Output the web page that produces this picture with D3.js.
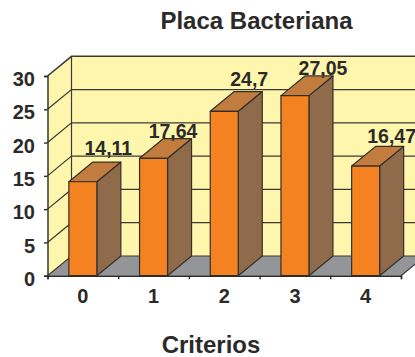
<!DOCTYPE html>
<html>
<head>
<meta charset="utf-8">
<script src="https://d3js.org/d3.v7.min.js"></script>
<style>
  html, body { margin: 0; padding: 0; background: #fff; overflow: hidden; }
  text { font-family: "Liberation Sans", Arial, sans-serif; font-weight: bold; fill: #2b2a29; }
</style>
</head>
<body>
<div id="chart"></div>
<script>
const categories = ["0", "1", "2", "3", "4"];
const values = [14.11, 17.64, 24.7, 27.05, 16.47];
const valueLabels = ["14,11", "17,64", "24,7", "27,05", "16,47"];
const yTicks = [0, 5, 10, 15, 20, 25, 30];

const width = 415, height = 357;
const plotLeft = 47.5, plotRight = 401, plotBottom = 275.7, plotTop = 76;
const depthX = 24, depthY = -19.7;
const lineColor = "#3d3a35";

const svg = d3.select("#chart").append("svg")
    .attr("width", width)
    .attr("height", height);

const x = d3.scaleBand()
    .domain(categories)
    .range([plotLeft, plotRight])
    .paddingInner(0.604)
    .paddingOuter(0.302);

const xEdges = d3.scaleLinear().domain([0, categories.length]).range([plotLeft, plotRight]);
const y = d3.scaleLinear().domain([0, 30]).range([plotBottom, plotTop]);

// walls and floor
svg.append("path")
    .attr("d", `M${plotLeft},${y(0)}L${plotLeft},${y(30)}L${plotLeft + depthX},${y(30) + depthY}L${plotLeft + depthX},${y(0) + depthY}Z`)
    .attr("fill", "#fff6ae");

svg.append("rect")
    .attr("x", plotLeft + depthX)
    .attr("y", y(30) + depthY)
    .attr("width", plotRight - plotLeft)
    .attr("height", y(0) - y(30))
    .attr("fill", "#fff6ae");

svg.append("path")
    .attr("d", `M${plotLeft},${y(0)}L${plotLeft + depthX},${y(0) + depthY}L${plotRight + depthX},${y(0) + depthY}L${plotRight},${y(0)}Z`)
    .attr("fill", "#939598");

// gridlines on side and back wall
svg.selectAll(".grid")
    .data(yTicks)
    .enter().append("path")
    .attr("class", "grid")
    .attr("d", d => `M${plotLeft},${y(d)}L${plotLeft + depthX},${y(d) + depthY}L${plotRight + depthX},${y(d) + depthY}`)
    .attr("fill", "none")
    .attr("stroke", lineColor)
    .attr("stroke-width", d => d === 30 ? 1.6 : 1.2);

svg.append("line")
    .attr("x1", plotLeft + depthX).attr("x2", plotLeft + depthX)
    .attr("y1", y(30) + depthY).attr("y2", y(0) + depthY)
    .attr("stroke", lineColor)
    .attr("stroke-width", 1.2);

svg.append("line")
    .attr("x1", plotRight).attr("x2", plotRight + depthX)
    .attr("y1", y(0)).attr("y2", y(0) + depthY)
    .attr("stroke", lineColor)
    .attr("stroke-width", 1.2);

// bars
const bars = svg.selectAll(".bar")
    .data(categories.map((c, i) => ({ c, v: values[i], label: valueLabels[i] })))
    .enter().append("g")
    .attr("class", "bar")
    .attr("stroke", "#33302c")
    .attr("stroke-width", 1.2)
    .attr("stroke-linejoin", "round");

bars.append("path")
    .attr("d", d => {
        const x1 = x(d.c) + x.bandwidth();
        return `M${x1},${y(d.v)}L${x1 + depthX},${y(d.v) + depthY}L${x1 + depthX},${y(0) + depthY}L${x1},${y(0)}Z`;
    })
    .attr("fill", "#8f6b4b");

bars.append("path")
    .attr("d", d => {
        const x0 = x(d.c), x1 = x0 + x.bandwidth();
        return `M${x0},${y(d.v)}L${x0 + depthX},${y(d.v) + depthY}L${x1 + depthX},${y(d.v) + depthY}L${x1},${y(d.v)}Z`;
    })
    .attr("fill", "#c17c3e");

bars.append("rect")
    .attr("x", d => x(d.c))
    .attr("y", d => y(d.v))
    .attr("width", x.bandwidth())
    .attr("height", d => y(0) - y(d.v))
    .attr("fill", "#f58220");

// axes
const yAxis = svg.append("g")
    .attr("transform", `translate(${plotLeft},0)`)
    .call(d3.axisLeft(y).tickValues(yTicks).tickSize(3.5).tickPadding(9));

const xTickAxis = svg.append("g")
    .attr("transform", `translate(0,${plotBottom})`)
    .call(d3.axisBottom(xEdges).ticks(categories.length).tickSize(3.5).tickFormat(""));

const xAxis = svg.append("g")
    .attr("transform", `translate(0,${plotBottom})`)
    .call(d3.axisBottom(x).tickSize(0).tickPadding(13));

xAxis.select(".domain").remove();
[yAxis, xTickAxis].forEach(a => {
    a.selectAll("path, line").attr("stroke", "#2b2a29").attr("stroke-width", 1.4);
});
yAxis.selectAll("text").attr("dy", "0.48em").style("font-size", "20px");
xAxis.selectAll("text").style("font-size", "20px");

// value labels sit unevenly in the original
const labelDx = [25.5, 19.5, 25, 28, 26];
const labelDy = [27, 20, 25, 21, 23];

bars.append("text")
    .attr("x", (d, i) => x(d.c) + x.bandwidth() / 2 + labelDx[i])
    .attr("y", (d, i) => y(d.v) - labelDy[i])
    .attr("text-anchor", "middle")
    .attr("stroke", "none")
    .style("font-size", "19.5px")
    .text(d => d.label);

svg.append("text")
    .attr("x", 256.5)
    .attr("y", 29)
    .attr("text-anchor", "middle")
    .style("font-size", "24px")
    .text("Placa Bacteriana");

svg.append("text")
    .attr("x", 211)
    .attr("y", 353)
    .attr("text-anchor", "middle")
    .style("font-size", "24px")
    .text("Criterios");
</script>
</body>
</html>
